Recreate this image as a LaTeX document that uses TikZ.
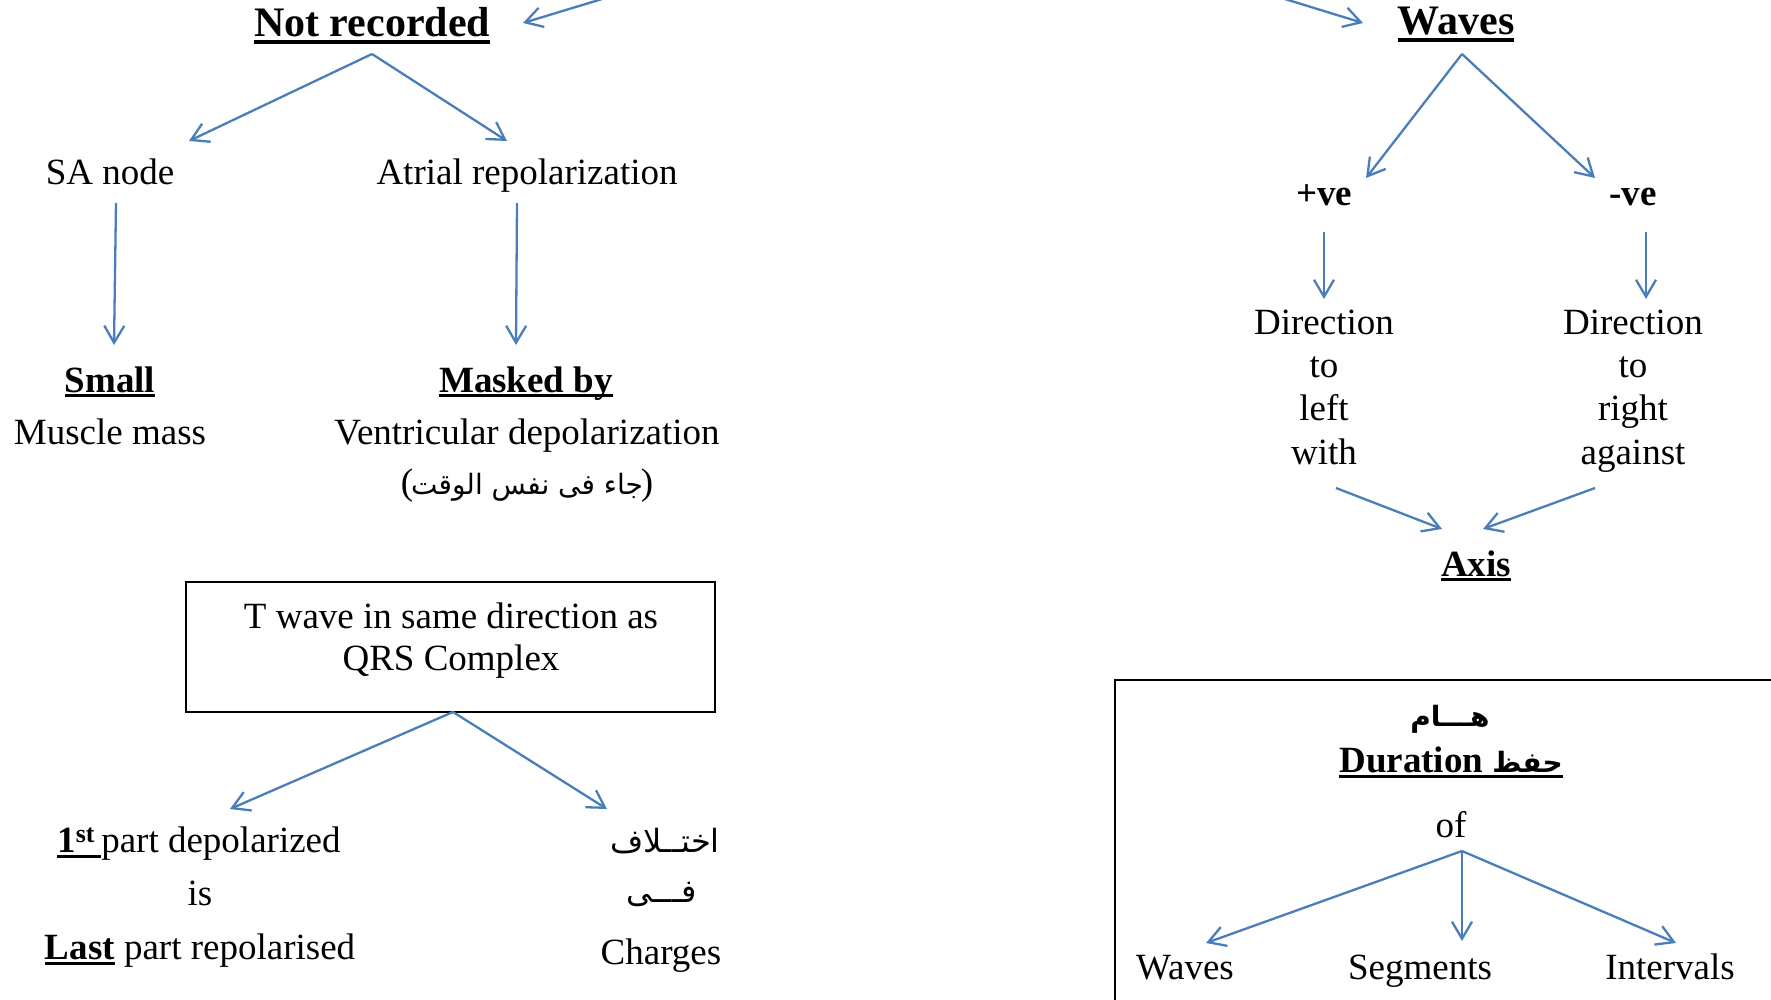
\documentclass[tikz,border=0pt]{standalone}
\usepackage{fontspec}
\setmainfont{Liberation Serif}
\newfontfamily\arabicfont[Script=Arabic]{DejaVu Sans}
\TeXXeTstate=1
\usetikzlibrary{arrows.meta}

\definecolor{arrowblue}{RGB}{74,126,187}

% underlined text: #1 depth of rule bottom, #2 rule thickness, #3 text
\newcommand\ulbox[3]{\setbox0\hbox{#3}\rlap{\rule[-#1]{\wd0}{#2}}\box0\relax}

\tikzset{
  conn/.style={draw=arrowblue, line width=2.3pt,
    -{Straight Barb[length=17pt,width=20pt,line width=2.3pt]}},
  txt/.style={font=\fontsize{37}{43}\selectfont, inner sep=0pt, anchor=base},
  head/.style={font=\fontsize{42}{48}\selectfont\bfseries, inner sep=0pt, anchor=base},
  arab/.style={font=\fontsize{32}{40}\selectfont\arabicfont, inner sep=0pt, anchor=base},
  frame/.style={draw=black, line width=1.4pt},
}

\begin{document}
\begin{tikzpicture}[x=1pt,y=-1pt]
\useasboundingbox (0,0) rectangle (1771,1000);

% ---------- left tree: Not recorded ----------
\node[head] (nr) at (372,37) {\ulbox{7pt}{3.5pt}{Not recorded}};
\node[txt] (sa) at (110,185) {SA node};
\node[txt] (atr) at (527,185) {Atrial repolarization};
\node[txt] (small) at (110,392) {\ulbox{5pt}{3pt}{\bfseries Small}};
\node[txt] (muscle) at (110,444) {Muscle mass};
\node[txt] (masked) at (526,392) {\ulbox{5pt}{3pt}{\bfseries Masked by}};
\node[txt] (ventr) at (527,444) {Ventricular depolarization};
\node[txt] (same) at (527,494) {(\kern-2pt{\arabicfont\fontsize{28}{40}\selectfont\beginR جاء فى نفس الوقت\endR}\kern-2pt)};

\coordinate (inNR0) at (612,-4);
\coordinate (inNR1) at (523,23);
\coordinate (nrA) at (372,54);
\coordinate (nrL) at (189,141);
\coordinate (nrR) at (507,141);
\coordinate (saT) at (116,203);
\coordinate (saB) at (114,345);
\coordinate (atT) at (517,203);
\coordinate (atB) at (516,345);
\draw[conn] (inNR0) -- (inNR1);
\draw[conn] (nrA) -- (nrL);
\draw[conn] (nrA) -- (nrR);
\draw[conn] (saT) -- (saB);
\draw[conn] (atT) -- (atB);

% ---------- T wave box ----------
\draw[frame] (186,582) rectangle (715,712);
\node[txt] (tw1) at (451,628) {T wave in same direction as};
\node[txt] (tw2) at (451,670) {QRS Complex};
\coordinate (twA) at (453,712);
\coordinate (twL) at (230,809);
\coordinate (twR) at (607,809);
\draw[conn] (twA) -- (twL);
\draw[conn] (twA) -- (twR);

\node[txt] (first) at (199,852) {\ulbox{6pt}{2.6pt}{\bfseries 1\textsuperscript{st}\,}part depolarized};
\node[txt] (is) at (200,905) {is};
\node[txt] (last) at (200,959) {\ulbox{6pt}{2.6pt}{\bfseries Last} part repolarised};
\node[arab] (ikh) at (665,852) {\beginR اختــلاف\endR};
\node[arab] (fi) at (662,902) {\beginR فـــى\endR};
\node[txt] (charges) at (661,964) {Charges};

% ---------- right tree: Waves ----------
\coordinate (inW0) at (1275,-4);
\coordinate (inW1) at (1363,23);
\draw[conn] (inW0) -- (inW1);
\node[head] (waves) at (1456,35) {\ulbox{7pt}{3.5pt}{Waves}};
\node[txt] (pos) at (1324,206) {\bfseries +ve};
\node[txt] (neg) at (1633,206) {\bfseries -ve};
\coordinate (wA) at (1462,54);
\coordinate (wL) at (1366,178);
\coordinate (wR) at (1595,178);
\draw[conn] (wA) -- (wL);
\draw[conn] (wA) -- (wR);
\coordinate (pT) at (1324,232);
\coordinate (pB) at (1324,299);
\coordinate (nT) at (1646,232);
\coordinate (nB) at (1646,299);
\draw[conn] (pT) -- (pB);
\draw[conn] (nT) -- (nB);

\node[txt] (dl1) at (1324,334) {Direction};
\node[txt] (dl2) at (1324,377) {to};
\node[txt] (dl3) at (1324,420) {left};
\node[txt] (dl4) at (1324,464) {with};
\node[txt] (dr1) at (1633,334) {Direction};
\node[txt] (dr2) at (1633,377) {to};
\node[txt] (dr3) at (1633,420) {right};
\node[txt] (dr4) at (1633,464) {against};

\coordinate (axL0) at (1336,488);
\coordinate (axL1) at (1442,529);
\coordinate (axR0) at (1595,488);
\coordinate (axR1) at (1483,529);
\draw[conn] (axL0) -- (axL1);
\draw[conn] (axR0) -- (axR1);
\node[txt] (axis) at (1476,576) {\ulbox{5pt}{3pt}{\bfseries Axis}};

% ---------- Duration box ----------
\draw[frame] (1115,680) rectangle (1800,1030);
\node[arab] (ham) at (1450,726) {\fontsize{28}{36}\selectfont\bfseries\beginR هـــام\endR};
\node[txt] (dur) at (1451,772) {\ulbox{6pt}{3pt}{\bfseries Duration {\arabicfont\fontsize{28}{40}\selectfont\beginR حفظ\endR}}};
\node[txt] (of) at (1451,837) {of};
\coordinate (oA) at (1462,851);
\coordinate (oL) at (1206,943);
\coordinate (oM) at (1462,941);
\coordinate (oR) at (1676,943);
\draw[conn] (oA) -- (oL);
\draw[conn] (oA) -- (oM);
\draw[conn] (oA) -- (oR);
\node[txt] (bw) at (1185,979) {Waves};
\node[txt] (bs) at (1420,979) {Segments};
\node[txt] (bi) at (1670,979) {Intervals};
\end{tikzpicture}
\end{document}
